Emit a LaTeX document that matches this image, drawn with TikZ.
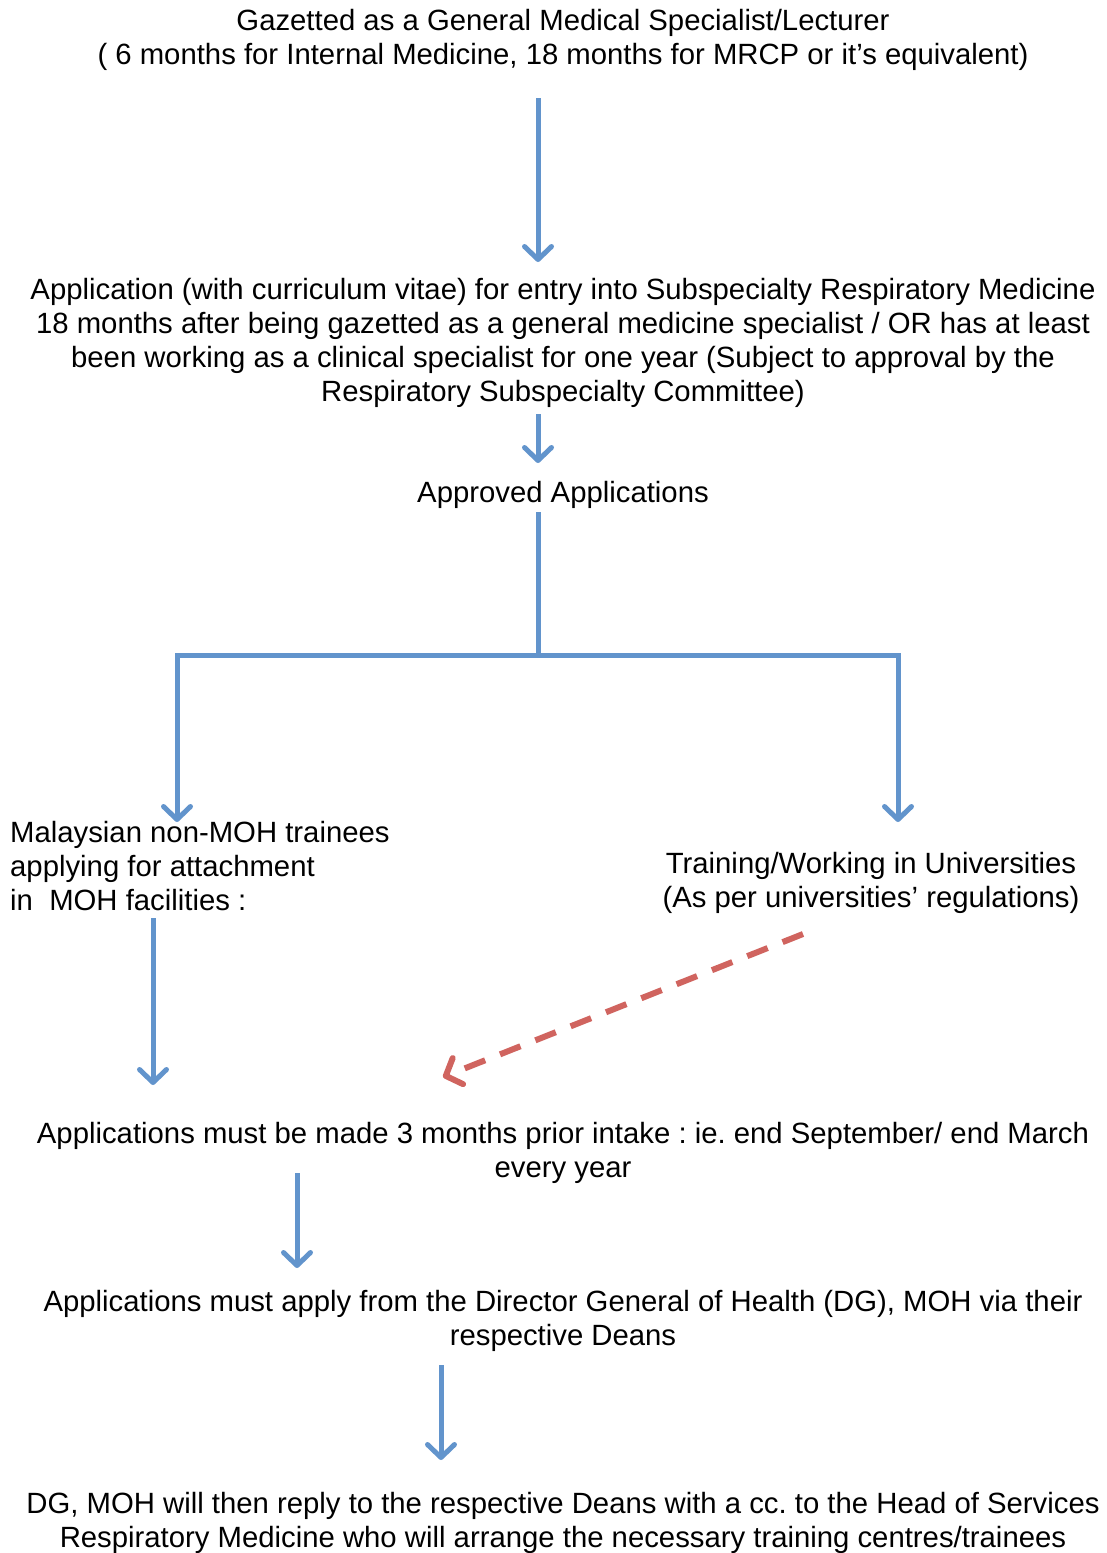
\documentclass[tikz,border=0pt]{standalone}
\usepackage{fontspec}
\setmainfont{Liberation Sans}
\usetikzlibrary{arrows.meta}
\frenchspacing
\definecolor{flowblue}{RGB}{98,148,204}
\definecolor{flowred}{RGB}{208,100,95}
\tikzset{
  txt/.style={inner sep=0pt, align=center, font=\fontsize{29.3}{34}\selectfont},
  flow/.style={draw=flowblue, line width=5pt, line join=miter},
  flowarr/.style={flow, -{Straight Barb[length=13pt,width=27pt,round]}},
  dasharr/.style={draw=flowred, line width=6pt, dash pattern=on 22pt off 16pt,
    -{Straight Barb[length=13pt,width=28pt,round]}}
}
\begin{document}
\begin{tikzpicture}[x=1pt,y=-1pt]
\useasboundingbox (0,0) rectangle (1107,1553);
\node[txt] (top) at (563,40) {Gazetted as a General Medical Specialist/Lecturer\\( 6 months for Internal Medicine, 18 months for MRCP or it’s equivalent)};
\node[txt] (appl) at (563,343) {Application (with curriculum vitae) for entry into Subspecialty Respiratory Medicine\\18 months after being gazetted as a general medicine specialist / OR has at least\\been working as a clinical specialist for one year (Subject to approval by the\\Respiratory Subspecialty Committee)};
\node[txt] (appr) at (563,495) {Approved Applications};
\node[txt, anchor=west, align=left] (mal) at (10,866) {Malaysian non-MOH trainees\\applying for attachment\\in\ \ MOH facilities :};
\node[txt] (uni) at (871,883) {Training/Working in Universities\\(As per universities’ regulations)};
\node[txt] (prior) at (563,1153) {Applications must be made 3 months prior intake : ie. end September/ end March\\every year};
\node[txt] (dg) at (563,1321) {Applications must apply from the Director General of Health (DG), MOH via their\\respective Deans};
\node[txt] (reply) at (563,1523) {DG, MOH will then reply to the respective Deans with a cc. to the Head of Services\\Respiratory Medicine who will arrange the necessary training centres/trainees};

\coordinate (a1s) at (538,98);   \coordinate (a1e) at (538,262);
\coordinate (a2s) at (538,414);  \coordinate (a2e) at (538,463);
\coordinate (bs) at (538,512);   \coordinate (bj) at (538,655);
\coordinate (bl) at (177,822);   \coordinate (br) at (898,822);
\coordinate (a3s) at (153,918);  \coordinate (a3e) at (153,1085);
\coordinate (ds) at (803,934);   \coordinate (de) at (443,1077);
\coordinate (a4s) at (297,1173); \coordinate (a4e) at (297,1268);
\coordinate (a5s) at (441,1365); \coordinate (a5e) at (441,1460);

\draw[flowarr] (a1s) -- (a1e);
\draw[flowarr] (a2s) -- (a2e);
\draw[flow] (bs) -- (bj);
\draw[flowarr] (bj) -| (bl);
\draw[flowarr] (bj) -| (br);
\draw[flowarr] (a3s) -- (a3e);
\draw[dasharr] (ds) -- (de);
\draw[flowarr] (a4s) -- (a4e);
\draw[flowarr] (a5s) -- (a5e);
\end{tikzpicture}
\end{document}
